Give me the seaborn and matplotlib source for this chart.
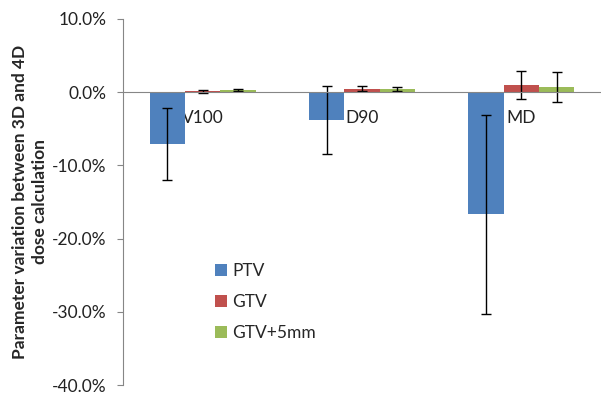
import matplotlib
matplotlib.use("Agg")
import matplotlib.pyplot as plt
import pandas as pd
import seaborn as sns
from matplotlib.ticker import FuncFormatter

# values (fractions)
categories = ["V100", "D90", "MD"]
structures = ["PTV", "GTV", "GTV+5mm"]
ptv_mean = [-0.071, -0.038, -0.167]
gtv_mean = [0.001, 0.005, 0.010]
gtv5_mean = [0.003, 0.004, 0.007]
ptv_err = [0.049, 0.047, 0.136]
gtv_err = [0.002, 0.003, 0.019]
gtv5_err = [0.001, 0.0025, 0.020]
yticks = [0.10, 0.0, -0.10, -0.20, -0.30, -0.40]

colors = ["#4F81BD", "#C0504D", "#9BBB59"]
grey = "#868686"

df = pd.DataFrame({
    "param": categories * 3,
    "structure": [s for s in structures for _ in categories],
    "value": ptv_mean + gtv_mean + gtv5_mean,
    "err": ptv_err + gtv_err + gtv5_err,
})

sns.set_style("white")
plt.rcParams["font.family"] = ["Lato", "DejaVu Sans"]

fig = plt.figure(figsize=(6.01, 3.95), dpi=100)
ax = fig.add_axes([0.2047, 0.0253, 0.7953, 0.9266])

sns.barplot(data=df, x="param", y="value", hue="structure", order=categories,
            hue_order=structures, palette=colors, width=0.667, saturation=1,
            errorbar=None, linewidth=0, edgecolor="none", ax=ax)

# error bars on each bar
for patch, (_, row) in zip(ax.patches, df.iterrows()):
    cx = patch.get_x() + patch.get_width() / 2
    ax.errorbar(cx, row["value"], yerr=row["err"], fmt="none", ecolor="black",
                elinewidth=1, capsize=3.5, capthick=1)

ax.set_ylim(-0.40, 0.10)
ax.set_xlim(-0.5, 2.45)
ax.set_yticks(yticks)
ax.yaxis.set_major_formatter(FuncFormatter(lambda v, p: f"{v * 100:.1f}%"))

for s in ["top", "right"]:
    ax.spines[s].set_visible(False)
ax.spines["left"].set_color(grey)
ax.spines["bottom"].set_color(grey)
ax.spines["bottom"].set_position(("data", 0))

ax.set_xticks([-0.5, 0.5, 1.5, 2.5], minor=True)
ax.tick_params(axis="x", which="major", length=0, pad=13, labelsize=12.5,
               labelcolor="#222222")
ax.tick_params(axis="x", which="minor", length=4, color=grey, direction="out")
ax.tick_params(axis="y", length=4, color=grey, direction="out", pad=8,
               labelsize=12.5, labelcolor="#222222", left=True)

ax.set_xlabel("")
ax.set_ylabel("Parameter variation between 3D and 4D\ndose calculation",
              fontsize=12.5, fontweight="bold", labelpad=3, linespacing=1.3)

ax.legend(loc="upper left", bbox_to_anchor=(0.16, 0.375), frameon=False,
          fontsize=12.5, handlelength=0.7, handleheight=0.7, handletextpad=0.3,
          labelspacing=0.85)

fig.savefig("out.png", dpi=100)
